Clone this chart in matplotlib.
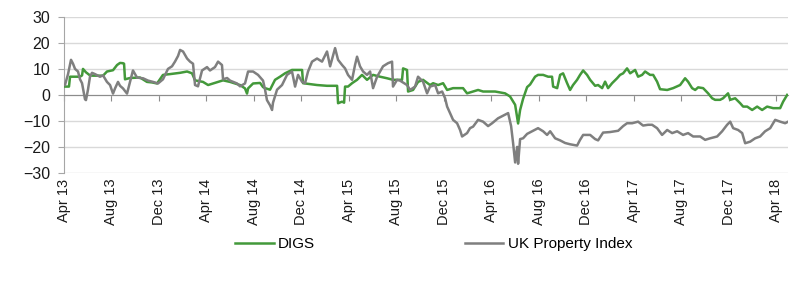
import matplotlib
matplotlib.use("Agg")
import matplotlib.pyplot as plt

plt.rcParams['font.family'] = ['Liberation Sans Narrow', 'Liberation Sans', 'DejaVu Sans']

# x values are months after April 2013
tick_labels = ['Apr 13', 'Aug 13', 'Dec 13', 'Apr 14', 'Aug 14', 'Dec 14', 'Apr 15', 'Aug 15',
               'Dec 15', 'Apr 16', 'Aug 16', 'Dec 16', 'Apr 17', 'Aug 17', 'Dec 17', 'Apr 18']
tick_months = [0, 4, 8, 12, 16, 20, 24, 28, 32, 36, 40, 44, 48, 52, 56, 60]

digs_m = [0.08, 0.42, 0.51, 0.93, 1.35, 1.52, 1.60, 1.85, 2.19, 2.44, 3.29, 3.62, 4.13, 4.47, 4.72,
          4.97, 5.06, 5.14, 5.56, 6.40, 6.99, 7.42, 7.84, 8.34, 8.93, 9.78, 10.37, 10.79, 11.04,
          11.71, 12.14, 12.56, 13.40, 13.99, 14.83, 15.25, 15.42, 15.51, 15.93, 16.52, 16.77,
          16.94, 17.36, 17.78, 18.20, 18.62, 19.21, 20.06, 20.14, 21.32, 22.16, 23.01, 23.09,
          23.43, 23.60, 23.68, 23.93, 24.27, 24.69, 25.11, 25.53, 26.04, 26.63, 27.22, 27.72,
          28.31, 28.48, 28.57, 28.90, 28.99, 29.41, 29.83, 30.25, 30.84, 31.10, 31.52, 31.94,
          32.28, 32.78, 33.62, 33.96, 34.47, 34.89, 35.31, 35.90, 36.32, 37.16, 37.58, 38.01,
          38.26, 38.43, 38.68, 39.02, 39.27, 39.69, 39.94, 40.37, 40.79, 41.12, 41.21, 41.55,
          41.80, 42.05, 42.39, 42.64, 42.89, 43.23, 43.48, 43.74, 44.07, 44.33, 44.75, 45.00,
          45.34, 45.59, 45.84, 46.18, 46.60, 46.85, 47.11, 47.44, 47.70, 48.12, 48.37, 48.71,
          48.96, 49.38, 49.64, 49.97, 50.22, 50.82, 51.32, 51.91, 52.33, 52.58, 52.92, 53.18,
          53.43, 53.85, 54.27, 54.61, 54.86, 55.28, 55.53, 55.95, 56.13, 56.55, 56.97, 57.22,
          57.56, 57.98, 58.40, 58.82, 59.24, 59.75, 60.34, 60.59, 60.93]
digs_v = [3.2, 3.2, 7, 7, 7, 7.5, 10, 8.7, 7.5, 7.4, 7.4, 9, 9.5, 11.5, 12.3,
          12.2, 12, 6, 6.5, 6.7, 5, 4.8, 4.4, 7.7, 8, 8.5, 9, 8.3, 5.6,
          5, 3.8, 4.4, 5.6, 5, 3.8, 2.5, 0.5, 2.5, 4.4, 4.6, 3,
          2.6, 2, 5.8, 7, 8.3, 9.6, 9.6, 4.5, 3.8, 3.5, 3.5, -3.2,
          -2.6, -3, 3.2, 3.2, 4.5, 5.8, 7.7, 5.8, 7.7, 7, 6.4, 5.8,
          5.8, 5.8, 10.2, 9.6, 1.3, 1.9, 5, 5.8, 3.8, 4.5, 3.8, 4.5,
          1.9, 2.6, 2.6, 0.6, 1.3, 1.9, 1.3, 1.3, 1.3, 0.6, -0.6, -3.8,
          -11, -5.8, -1.5, 3, 4, 7, 7.7, 7.7, 7, 7, 3.2, 2.6,
          7.7, 8.3, 4.5, 1.9, 3.8, 5.8, 7.7, 9.4, 7.7, 5.8, 3.5, 3.8,
          2.6, 5.1, 2.6, 4.5, 6.4, 7.7, 8.3, 10.2, 8.3, 9.6, 7, 7.7,
          9, 7.7, 7.7, 5.1, 2.2, 1.9, 2.6, 3.8, 6.4, 5.1, 2.6, 1.9,
          2.9, 2.6, 0.6, -1.3, -1.9, -1.9, -1.3, 0.6, -1.9, -1.3, -3.2, -4.5,
          -4.5, -5.8, -4.5, -5.8, -4.5, -5.1, -5.1, -2.6, 0]

uk_m = [0.08, 0.34, 0.59, 0.76, 0.93, 1.18, 1.35, 1.52, 1.77, 1.85, 2.02, 2.19, 2.36, 2.61, 3.03,
        3.29, 3.62, 3.88, 4.13, 4.30, 4.55, 4.72, 4.97, 5.31, 5.56, 5.81, 6.15, 6.40, 6.66,
        7.08, 7.50, 7.92, 8.34, 8.76, 9.10, 9.35, 9.61, 9.78, 10.03, 10.37, 10.62, 10.87,
        11.04, 11.29, 11.63, 12.05, 12.30, 12.72, 12.98, 13.31, 13.40, 13.74, 13.99, 14.58,
        14.83, 15.25, 15.51, 15.93, 16.35, 16.77, 16.94, 17.10, 17.36, 17.53, 17.61, 17.95,
        18.37, 18.79, 19.21, 19.47, 19.72, 20.06, 20.31, 20.56, 20.90, 21.32, 21.74, 22.16,
        22.42, 22.84, 23.09, 23.43, 23.68, 23.93, 24.27, 24.52, 24.69, 24.94, 25.20, 25.53,
        25.79, 26.04, 26.38, 26.63, 26.88, 27.30, 27.64, 27.72, 28.06, 28.31, 28.90, 29.16,
        29.58, 29.83, 30.25, 30.59, 30.84, 31.27, 31.52, 31.86, 32.11, 32.28, 32.53, 32.78,
        33.12, 33.37, 33.54, 33.96, 34.21, 34.47, 34.89, 35.31, 35.73, 36.07, 36.57, 36.99,
        37.42, 37.67, 37.84, 38.01, 38.18, 38.26, 38.43, 38.68, 39.02, 39.44, 39.94, 40.37,
        40.70, 40.96, 41.38, 41.80, 42.22, 42.64, 43.23, 43.48, 43.74, 44.33, 44.75, 45.00,
        45.42, 46.00, 46.69, 47.11, 47.44, 47.87, 48.37, 48.79, 49.21, 49.55, 49.97, 50.39,
        50.82, 51.24, 51.66, 52.16, 52.58, 53.01, 53.60, 54.02, 54.44, 55.03, 55.45, 55.87,
        56.13, 56.38, 56.80, 57.14, 57.39, 57.81, 58.23, 58.65, 59.07, 59.50, 59.92, 60.34,
        60.76, 61.01]
uk_v = [3.8, 8, 13.5, 12, 10, 9, 6, 4.5, -1.7, -2, 2, 7, 8.5, 8, 7,
        7.5, 5, 3.8, 0.5, 2.5, 5, 3.5, 2.5, 0.5, 5, 9.4, 6.7, 6.5, 6.4,
        5.5, 5, 4.4, 6, 10, 11, 12.8, 15, 17.3, 16.7, 14, 12.8, 12,
        3.8, 3.3, 9.4, 10.7, 9.4, 10.7, 12.8, 11.5, 6, 6.5, 5.5, 4.4,
        3.3, 4.4, 9, 9, 7.7, 5.5, 2, -2, -4, -5.8, -3, 2,
        3.8, 7.7, 9, 3.2, 7.7, 5, 4.5, 9, 12.8, 14, 12.8, 16.7,
        11, 18, 13.5, 11.5, 10.2, 7.7, 5.8, 11.5, 14.7, 11, 9, 7.7,
        9, 2.6, 7, 9, 11, 12.2, 12.8, 3.2, 5.8, 5.5, 3.8, 1.9,
        3.2, 7, 5.1, 0.6, 3.2, 3.8, 0.6, 1.3, -1.3, -4.5, -7, -9.6,
        -10.9, -13.5, -16, -14.7, -12.8, -12.2, -9.6, -10.3, -12, -10.9, -9, -8,
        -7, -12, -18.6, -26, -20, -26.5, -17, -16.7, -15, -14, -12.8, -14,
        -15.4, -14, -16.7, -17.5, -18.5, -19, -19.5, -17.3, -15.4, -15.4, -17, -17.5,
        -14.5, -14.3, -13.8, -12, -10.9, -10.9, -10.3, -11.8, -11.5, -11.5, -12.8, -15.4,
        -13.5, -14.7, -14, -15.4, -14.7, -16, -16, -17.3, -16.7, -16, -14, -11.5,
        -10.3, -12.8, -13.5, -14.7, -18.6, -18, -16.7, -16, -14, -12.8, -9.6, -10.3,
        -10.9, -10.3]

fig = plt.figure(figsize=(8, 2.92), dpi=100)
ax = fig.add_axes([0.08, 0.408, 0.905, 0.534])

ax.plot(digs_m, digs_v, color='#43993A', lw=1.8, label='DIGS', zorder=3)
ax.plot(uk_m, uk_v, color='#7F7F7F', lw=1.8, label='UK Property Index', zorder=4)

ax.set_xlim(0, 61.0)
ax.set_ylim(-30, 30)
ax.set_yticks(range(-30, 31, 10))
ax.grid(axis='y', color='#D9D9D9', lw=1)
ax.set_axisbelow(True)

# horizontal axis crosses at zero, labels stay at the bottom
ax.spines['top'].set_visible(False)
ax.spines['right'].set_visible(False)
ax.spines['bottom'].set_position(('data', 0))
ax.spines['bottom'].set_color('#8C8C8C')
ax.spines['left'].set_color('#A6A6A6')
ax.set_xticks(tick_months)
ax.tick_params(axis='x', direction='out', length=4, color='#8C8C8C', labelbottom=False)
ax.tick_params(axis='y', direction='out', length=4, color='#A6A6A6', pad=6,
               labelsize=11.5, labelcolor='#1A1A1A')

sec = ax.secondary_xaxis('bottom')
sec.set_xticks(tick_months, labels=tick_labels, rotation=90)
sec.tick_params(length=0, pad=4, labelsize=10.5, labelcolor='#1A1A1A')
sec.spines['bottom'].set_visible(False)

fig.legend(loc='center left', bbox_to_anchor=(0.277, 0.164), ncol=2, frameon=False,
           fontsize=11, handlelength=2.5, handletextpad=0.3, columnspacing=9.8)

fig.savefig('out.png', dpi=100)
